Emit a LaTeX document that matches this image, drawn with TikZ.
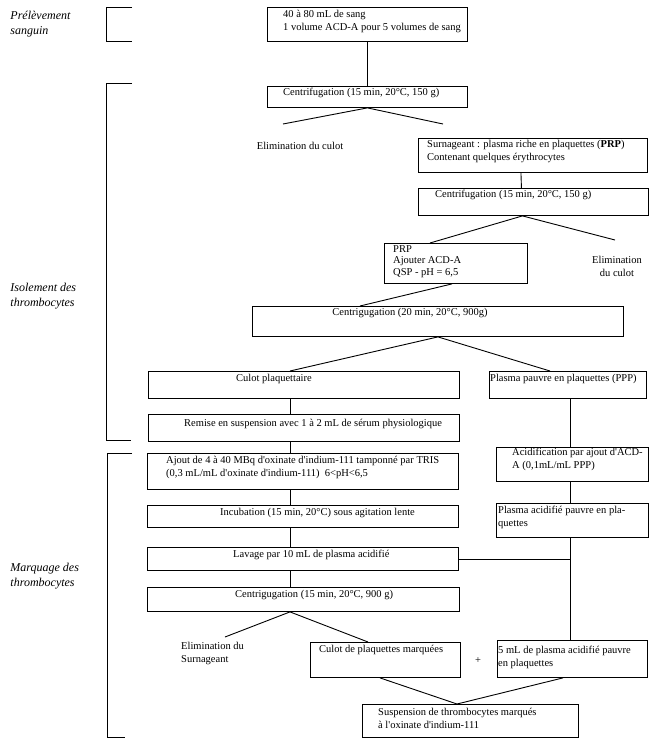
\documentclass[tikz,border=0pt]{standalone}
\usepackage{fontspec}
\setmainfont{Liberation Serif}
\usetikzlibrary{positioning}
\tikzset{every picture/.style={line width=0.9pt}}
\tikzset{
  box/.style={draw, anchor=north west, inner sep=0pt},
  txt/.style={anchor=north west, inner sep=0.75pt, align=left, font=\fontsize{10.5}{13}\selectfont},
  phase/.style={anchor=north west, inner sep=0pt, align=left, font=\fontsize{12}{15}\selectfont\itshape}
}
\newcommand{\ap}{\textquotesingle}

\begin{document}
\begin{tikzpicture}[x=1pt,y=1pt,yscale=-1,xscale=1]
\useasboundingbox (0,0) rectangle (657,750);

%Phases
\draw (132,7) -- (106,7) -- (106,41) -- (132,41) ;
\draw (132,83) -- (106,83) -- (106,440) -- (131,440) ;
\draw (132,453) -- (107,453) -- (107,737) -- (125,737) ;
\node [phase] (prel) at (10,11) {Prélèvement\\sanguin};
\node [phase] (isol) at (10,283) {Isolement des\\thrombocytes};
\node [phase] (marq) at (10,563) {Marquage des\\thrombocytes};

%Columns
\coordinate (spine) at (290,0);
\coordinate (rspine) at (570,0);

%Shape: Rectangle
\node [box, minimum width=200pt, minimum height=34pt] (sang) at (267,7) {};
\node [box, minimum width=200pt, minimum height=21pt] (cent1) at (267,86) {};
\node [box, minimum width=229pt, minimum height=34pt] (surn) at (418,138) {};
\node [box, minimum width=230pt, minimum height=27pt] (cent2) at (418,188) {};
\node [box, minimum width=143pt, minimum height=40pt] (prp) at (384,243) {};
\node [box, minimum width=371pt, minimum height=30pt] (cent3) at (252,306) {};
\node [box, minimum width=311pt, minimum height=27pt] (culot) at (148,371) {};
\node [box, minimum width=157pt, minimum height=27pt] (ppp) at (489,371) {};
\node [box, minimum width=311pt, minimum height=27pt] (remise) at (148,414) {};
\node [box, minimum width=311pt, minimum height=36pt] (ajout) at (147,453) {};
\node [box, minimum width=152pt, minimum height=34pt] (acid) at (496,447) {};
\node [box, minimum width=311pt, minimum height=22pt] (inc) at (147,505) {};
\node [box, minimum width=152pt, minimum height=34pt] (pa) at (496,503) {};
\node [box, minimum width=311pt, minimum height=23pt] (lav) at (147,547) {};
\node [box, minimum width=312pt, minimum height=24pt] (cent4) at (147,587) {};
\node [box, minimum width=150pt, minimum height=35pt] (cm) at (310,642) {};
\node [box, minimum width=150pt, minimum height=37pt] (cinq) at (497,640) {};
\node [box, minimum width=216pt, minimum height=33pt] (susp) at (362,704) {};

% Text Node
\node [txt] (sangtxt) at (282,9) {40 à 80 mL de sang\\1 volume ACD-A pour 5 volumes de sang};
\node [txt] (cent1txt) at (282,87) {Centrifugation (15 min, 20°C, 150 g)};
\node [txt, anchor=center] (elim1) at (300,146) {Elimination du culot};
\node [txt] (surntxt) at (426,139) {Surnageant : plasma riche en plaquettes (\textbf{PRP})\\Contenant quelques érythrocytes};
\node [txt] (cent2txt) at (434,189) {Centrifugation (15 min, 20°C, 150 g)};
\node [txt, font=\fontsize{10.5}{11.5}\selectfont] (prptxt) at (392,244) {PRP\\Ajouter ACD-A\\QSP - pH = 6,5};
\node [txt, anchor=center, align=center] (elim2) at (617,266) {Elimination\\du culot};
\node [txt, anchor=north] (cent3txt) at (410,307) {Centrigugation (20 min, 20°C, 900g)};
\node [txt] (culottxt) at (235,373) {Culot plaquettaire};
\node [txt] (ppptxt) at (489,373) {Plasma pauvre en plaquettes (PPP)};
\node [txt] (remisetxt) at (183,418) {Remise en suspension avec 1 à 2 mL de sérum physiologique};
\node [txt] (ajouttxt) at (165,455) {Ajout de 4 à 40 MBq d\ap oxinate d\ap indium-111 tamponné par TRIS\\(0,3 mL/mL d\ap oxinate d\ap indium-111)\ \ 6<pH<6,5};
\node [txt] (acidtxt) at (511,447) {Acidification par ajout d\ap ACD-\\A (0,1mL/mL PPP)};
\node [txt] (inctxt) at (219,507) {Incubation (15 min, 20°C) sous agitation lente};
\node [txt] (patxt) at (497,505) {Plasma acidifié pauvre en pla-\\quettes};
\node [txt] (lavtxt) at (232,549) {Lavage par 10 mL de plasma acidifié};
\node [txt] (cent4txt) at (234,589) {Centrigugation (15 min, 20°C, 900 g)};
\node [txt] (elim3) at (180,641) {Elimination du\\Surnageant};
\node [txt] (cmtxt) at (318,644) {Culot de plaquettes marquées};
\node [txt, anchor=center] (plus) at (478,661) {+};
\node [txt] (cinqtxt) at (497,645) {5 mL de plasma acidifié pauvre\\en plaquettes};
\node [txt] (susptxt) at (377,707) {Suspension de thrombocytes marqués\\à l\ap oxinate d\ap indium-111};

%Free ends
\coordinate (e1) at (283,124);
\coordinate (e2) at (443,124);
\coordinate (e3) at (615,240);
\coordinate (e4) at (225,637);

%Straight Lines
\draw (sang.south) -- (cent1.north) ;
\draw (e1) -- (cent1.south) -- (e2) ;
\draw ([xshift=-12pt]surn.south) -- ([xshift=-12pt]cent2.north) ;
\draw ([xshift=46pt]prp.north west) -- ([xshift=-11pt]cent2.south) -- (e3) ;
\draw ([xshift=68pt]prp.south west) -- ([xshift=108pt]cent3.north west) ;
\draw (culot.north -| spine) -- (cent3.south) -- ([xshift=61pt]ppp.north west) ;
\draw (culot.south -| spine) -- (remise.north -| spine) ;
\draw (remise.south -| spine) -- (ajout.north -| spine) ;
\draw (ajout.south -| spine) -- (inc.north -| spine) ;
\draw (inc.south -| spine) -- (lav.north -| spine) ;
\draw (lav.south -| spine) -- (cent4.north -| spine) ;
\draw (ppp.south -| rspine) -- (acid.north -| rspine) ;
\draw (acid.south -| rspine) -- (pa.north -| rspine) ;
\draw (pa.south -| rspine) -- (cinq.north -| rspine) ;
\draw (lav.east) -- (lav.east -| rspine) ;
\draw (e4) -- (cent4.south -| spine) -- ([xshift=58pt]cm.north west) ;
\draw ([xshift=70pt]cm.south west) -- ([xshift=95pt]susp.north west) -- ([xshift=66pt]cinq.south west) ;

\end{tikzpicture}
\end{document}
